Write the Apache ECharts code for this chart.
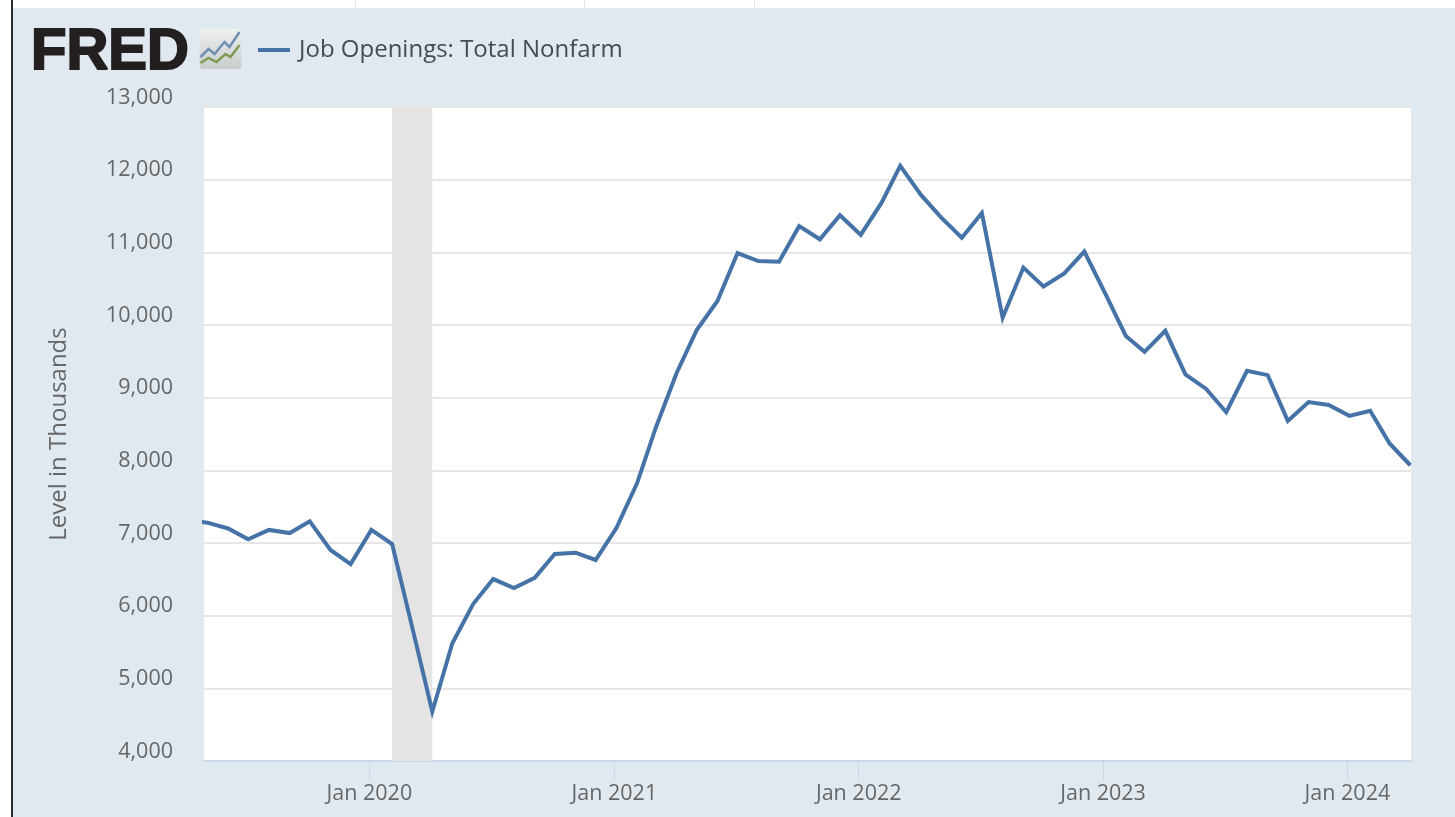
<!DOCTYPE html>
<html>
<head>
<meta charset="utf-8">
<title>Job Openings: Total Nonfarm</title>
<script src="https://cdn.jsdelivr.net/npm/echarts@6/dist/echarts.min.js"></script>
<style>
  html, body { margin: 0; height: 100%; background: #fff; overflow: hidden; }
  .panel { position: absolute; left: 12px; top: 8px; right: 0; bottom: 0; background: #e1e9f0; }
  .edge { position: absolute; left: 11px; top: 0; bottom: 0; width: 2px; background: #2b2b2b; }
  .mark { position: absolute; top: 0; width: 1px; height: 8px; background: #e4e4e4; }
  #chart { position: absolute; left: 0; top: 0; width: 1455px; height: 817px; }
</style>
</head>
<body>
<div class="panel"></div>
<div class="edge"></div>
<div class="mark" style="left:355px"></div>
<div class="mark" style="left:584px"></div>
<div class="mark" style="left:754px"></div>
<div id="chart"></div>
<script>
const seriesName = 'Job Openings: Total Nonfarm'
const yAxisName = 'Level in Thousands'

const months = [
  '2019-04-01', '2019-05-01', '2019-06-01', '2019-07-01', '2019-08-01', '2019-09-01',
  '2019-10-01', '2019-11-01', '2019-12-01',
  '2020-01-01', '2020-02-01', '2020-03-01', '2020-04-01', '2020-05-01', '2020-06-01',
  '2020-07-01', '2020-08-01', '2020-09-01', '2020-10-01', '2020-11-01', '2020-12-01',
  '2021-01-01', '2021-02-01', '2021-03-01', '2021-04-01', '2021-05-01', '2021-06-01',
  '2021-07-01', '2021-08-01', '2021-09-01', '2021-10-01', '2021-11-01', '2021-12-01',
  '2022-01-01', '2022-02-01', '2022-03-01', '2022-04-01', '2022-05-01', '2022-06-01',
  '2022-07-01', '2022-08-01', '2022-09-01', '2022-10-01', '2022-11-01', '2022-12-01',
  '2023-01-01', '2023-02-01', '2023-03-01', '2023-04-01', '2023-05-01', '2023-06-01',
  '2023-07-01', '2023-08-01', '2023-09-01', '2023-10-01', '2023-11-01', '2023-12-01',
  '2024-01-01', '2024-02-01', '2024-03-01', '2024-04-01'
]
const openings = [
  7310, 7280, 7200, 7050, 7180, 7137,
  7298, 6904, 6710,
  7180, 6986, 5880, 4680, 5620, 6160,
  6504, 6380, 6520, 6850, 6866, 6766,
  7206, 7825, 8590, 9340, 9930, 10330,
  10990, 10880, 10870, 11360, 11180, 11510,
  11240, 11680, 12190, 11790, 11480, 11200,
  11540, 10100, 10790, 10530, 10710, 11010,
  10440, 9850, 9630, 9920, 9320, 9120,
  8800, 9370, 9310, 8680, 8940, 8900,
  8750, 8820, 8370, 8070
]

// FRED draws its year ticks a couple of pixels left of the monthly points
const tickDates = ['2019-12-29', '2020-12-29', '2021-12-29', '2022-12-29', '2023-12-29']
const tickLabels = ['Jan 2020', 'Jan 2021', 'Jan 2022', 'Jan 2023', 'Jan 2024']
const recession = ['2020-02-01', '2020-04-01']

const axisFont = 'Open Sans'
const toTime = d => new Date(d + 'T00:00:00Z').getTime()
const tickValues = tickDates.map(toTime)

const myChart = echarts.init(document.querySelector('#chart'), null, { renderer: 'canvas' })

const option = {
  animation: false,
  backgroundColor: 'transparent',
  grid: {
    show: true,
    left: 204,
    top: 107,
    width: 1207,
    height: 654,
    backgroundColor: '#fff',
    borderWidth: 0
  },
  legend: {
    left: 253,
    top: 33,
    icon: 'rect',
    itemWidth: 32,
    itemHeight: 4,
    itemStyle: { color: '#4572a7' },
    textStyle: { fontFamily: axisFont, fontSize: 24, color: '#444b52', padding: [0, 0, 0, 4] },
    data: [seriesName]
  },
  xAxis: {
    type: 'value',
    min: toTime('2019-04-26'),
    max: toTime('2024-04-02'),
    axisLine: { lineStyle: { color: '#ccd6eb', width: 2 } },
    axisTick: { show: true, length: 19, lineStyle: { color: '#ccd6eb', width: 1 }, customValues: tickValues },
    splitLine: { show: false },
    axisLabel: {
      customValues: tickValues,
      margin: 22,
      fontFamily: axisFont,
      fontSize: 21.5,
      color: '#666',
      hideOverlap: false,
      formatter: value => tickLabels[tickValues.indexOf(value)] || ''
    }
  },
  yAxis: {
    type: 'value',
    min: 4000,
    max: 13000,
    interval: 1000,
    name: yAxisName,
    nameLocation: 'middle',
    nameGap: 133,
    nameTextStyle: { fontFamily: axisFont, fontSize: 24, color: '#666' },
    axisLine: { show: false },
    axisTick: { show: false },
    splitLine: { lineStyle: { color: '#e6e6e6', width: 2 } },
    axisLabel: {
      margin: 31,
      fontFamily: axisFont,
      fontSize: 21.5,
      lineHeight: 19,
      color: '#666',
      verticalAlign: 'bottom',
      formatter: value => value.toLocaleString('en-US')
    }
  },
  series: [
    {
      name: seriesName,
      type: 'line',
      showSymbol: false,
      symbol: 'none',
      clip: true,
      data: months.map((m, i) => [toTime(m), openings[i]]),
      lineStyle: { color: '#4572a7', width: 4, join: 'miter' },
      itemStyle: { color: '#4572a7' },
      markArea: {
        silent: true,
        itemStyle: { color: '#e4e4e4' },
        data: [[{ xAxis: toTime(recession[0]) }, { xAxis: toTime(recession[1]) }]]
      }
    }
  ],
  graphic: [
    {
      type: 'text',
      left: 30,
      top: 23,
      style: {
        text: 'FRED',
        fontFamily: 'Liberation Sans',
        fontWeight: 'bold',
        fontSize: 58,
        fill: '#231f20',
        stroke: '#231f20',
        lineWidth: 2
      }
    },
    {
      type: 'group',
      left: 198,
      top: 29,
      children: [
        {
          type: 'rect',
          shape: { x: 0, y: 0, width: 42, height: 40, r: 3 },
          style: {
            fill: {
              type: 'linear', x: 0, y: 0, x2: 0, y2: 1,
              colorStops: [{ offset: 0, color: '#eef0f0' }, { offset: 1, color: '#c9cccc' }]
            }
          }
        },
        { type: 'polyline', shape: { points: [[1, 28], [9, 20], [15, 25], [25, 13], [30, 18], [40, 3]] }, style: { fill: 'none', stroke: '#6e8fb0', lineWidth: 2.5 } },
        { type: 'polyline', shape: { points: [[1, 34], [9, 29], [17, 33], [26, 25], [31, 28], [40, 16]] }, style: { fill: 'none', stroke: '#7f9a52', lineWidth: 2.5 } }
      ]
    }
  ]
}

myChart.setOption(option)
</script>
</body>
</html>
